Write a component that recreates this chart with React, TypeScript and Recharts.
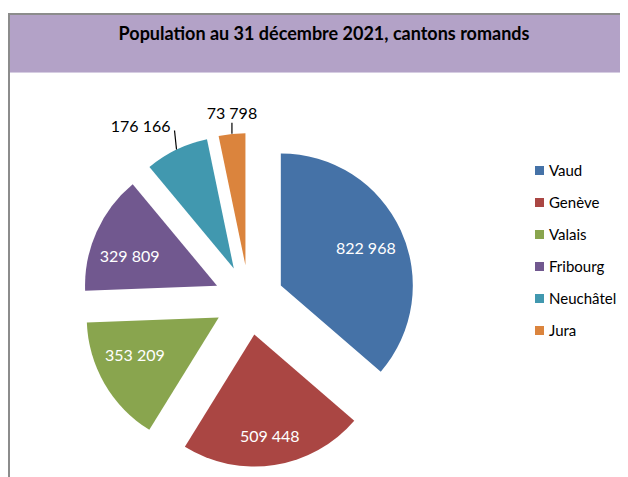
import { Cell, Legend, Pie, PieChart } from 'recharts';

// Population au 31 décembre 2021, cantons romands — exploded pie
const CANTONS = ['Vaud', 'Genève', 'Valais', 'Fribourg', 'Neuchâtel', 'Jura'];
const POPULATION = [822968, 509448, 353209, 329809, 176166, 73798];
const COLORS = ['#4572A7', '#AA4643', '#89A54E', '#71588F', '#4198AF', '#DB843D'];

const TITLE = 'Population au 31 décembre 2021, cantons romands';
const FONT = 'Lato, "Open Sans", sans-serif';

const W = 620;
const H = 469;
const CX = 241;
const CY = 292;
const R = 132;
const EXPLODE = 35;
const RAD = Math.PI / 180;

// label placement per slice (inside: fraction of radius + nudge, outside: leader line)
const LABEL_LAYOUT = [
  { inside: true, r: 0.7, nx: 1, ny: 1 },
  { inside: true, r: 0.77, nx: 0, ny: 0 },
  { inside: true, r: 0.7, nx: -4, ny: -10 },
  { inside: true, r: 0.7, nx: -3, ny: 7 },
  { inside: false, dx: -2, dy: -19, tx: -4, ty: -5, anchor: 'end' },
  { inside: false, dx: 0, dy: -11, tx: 0, ty: -10, anchor: 'middle' },
];

const data = CANTONS.map((name, i) => ({ name, value: POPULATION[i] }));
const total = POPULATION.reduce((a, b) => a + b, 0);

// mid angle of slice i, clockwise from 12 o'clock, degrees
function midClock(i: number): number {
  const before = POPULATION.slice(0, i).reduce((a, b) => a + b, 0);
  return ((before + POPULATION[i] / 2) / total) * 360;
}

function fmt(v: number): string {
  return String(v).replace(/\B(?=(\d{3})+(?!\d))/g, ' ');
}

type LabelProps = {
  cx?: number;
  cy?: number;
  midAngle?: number;
  outerRadius?: number;
  index?: number;
  value?: number;
};

function makeLabel(own: number) {
  return (props: LabelProps) => {
    const { cx = 0, cy = 0, midAngle = 0, outerRadius = R, index, value = 0 } = props;
    if (index !== own) return null;
    const ux = Math.cos(-midAngle * RAD);
    const uy = Math.sin(-midAngle * RAD);
    const lay = LABEL_LAYOUT[own];
    if (lay.inside) {
      const rr = outerRadius * (lay.r ?? 0.7);
      return (
        <text
          x={cx + rr * ux + (lay.nx ?? 0)}
          y={cy + rr * uy + (lay.ny ?? 0)}
          fill="#fff"
          textAnchor="middle"
          dominantBaseline="central"
          fontFamily={FONT}
          fontSize={16}
        >
          {fmt(value)}
        </text>
      );
    }
    const x0 = cx + outerRadius * ux;
    const y0 = cy + outerRadius * uy;
    const x1 = x0 + (lay.dx ?? 0);
    const y1 = y0 + (lay.dy ?? 0);
    return (
      <g>
        <line x1={x0} y1={y0} x2={x1} y2={y1} stroke="#000" strokeWidth={1.2} />
        <text
          x={x1 + (lay.tx ?? 0)}
          y={y1 + (lay.ty ?? 0)}
          fill="#000"
          textAnchor={lay.anchor as 'end' | 'middle'}
          dominantBaseline="central"
          fontFamily={FONT}
          fontSize={16}
        >
          {fmt(value)}
        </text>
      </g>
    );
  };
}

function LegendList() {
  return (
    <div style={{ fontFamily: FONT, fontSize: 15, color: '#000' }}>
      {CANTONS.map((name, i) => (
        <div key={name} style={{ display: 'flex', alignItems: 'center', height: 32 }}>
          <span style={{ width: 9, height: 9, background: COLORS[i], marginRight: 5 }} />
          <span>{name}</span>
        </div>
      ))}
    </div>
  );
}

export default function App() {
  return (
    <div style={{ position: 'relative', width: W, height: H, overflow: 'hidden' }}>
      <div
        style={{
          position: 'absolute',
          left: 0,
          top: 5,
          width: 640,
          height: 480,
          borderLeft: '2px solid #8c8c8c',
          borderTop: '2px solid #8c8c8c',
        }}
      />
      <div
        style={{
          position: 'absolute',
          left: 2,
          top: 7,
          width: 640,
          height: 57,
          background: '#B3A2C7',
          borderBottom: '1px solid #d6cde2',
        }}
      />
      <div
        style={{
          position: 'absolute',
          left: 0,
          width: 632,
          top: 13,
          textAlign: 'center',
          fontFamily: FONT,
          fontWeight: 700,
          fontSize: 18,
          lineHeight: '24px',
          color: '#000',
        }}
      >
        {TITLE}
      </div>
      <div style={{ position: 'absolute', left: 0, top: 0 }}>
        <PieChart width={W} height={H} margin={{ top: 0, right: 0, bottom: 0, left: 0 }}>
          {CANTONS.map((name, i) => {
            const a = midClock(i) * RAD;
            return (
              <Pie
                key={name}
                data={data}
                dataKey="value"
                nameKey="name"
                cx={CX + EXPLODE * Math.sin(a)}
                cy={CY - EXPLODE * Math.cos(a)}
                outerRadius={R}
                startAngle={90}
                endAngle={-270}
                stroke="none"
                labelLine={false}
                label={makeLabel(i)}
                isAnimationActive={false}
              >
                {data.map((d, j) => (
                  <Cell
                    key={d.name}
                    fill={j === i ? COLORS[j] : 'transparent'}
                    stroke="none"
                  />
                ))}
              </Pie>
            );
          })}
          <Legend
            layout="vertical"
            content={() => <LegendList />}
            wrapperStyle={{ left: 527, top: 146, width: 90 }}
          />
        </PieChart>
      </div>
    </div>
  );
}
